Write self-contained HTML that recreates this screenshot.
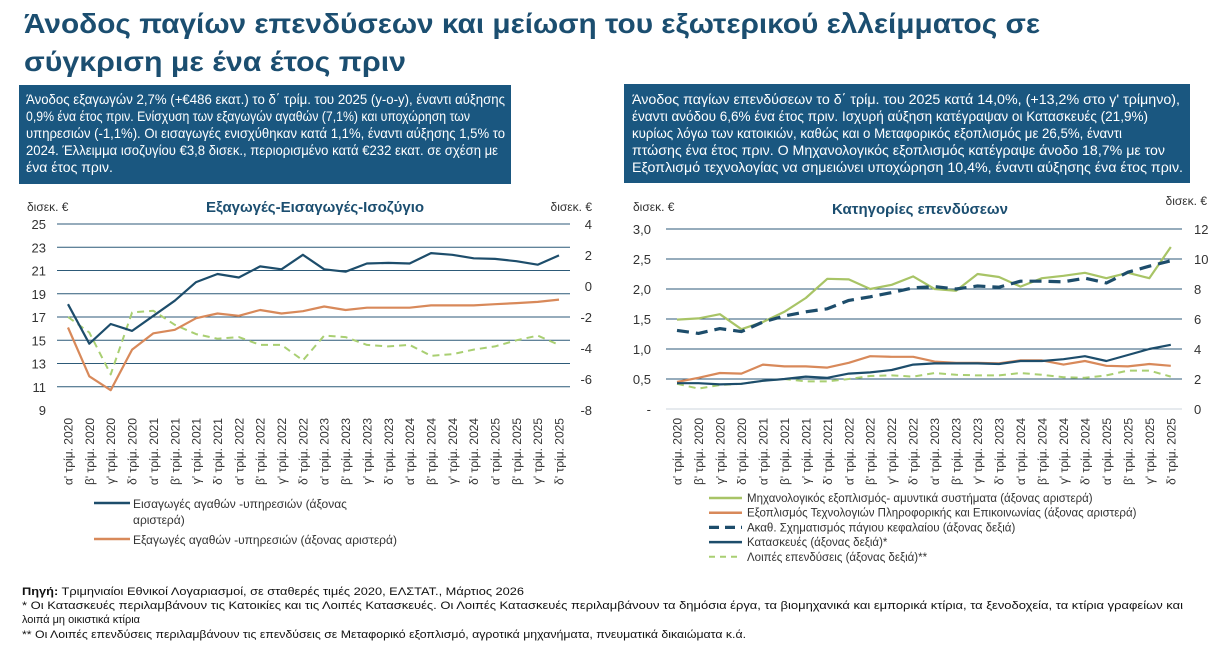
<!DOCTYPE html>
<html><head><meta charset="utf-8">
<style>
html,body{margin:0;padding:0;background:#fff;}
svg{display:block;font-family:"Liberation Sans",sans-serif;}
</style></head>
<body>
<svg id="s" width="1220" height="649" viewBox="0 0 1220 649" xmlns="http://www.w3.org/2000/svg">
<rect width="1220" height="649" fill="#fff"/>
<g fill="#1b4e70" font-weight="bold" font-size="28">
<text x="24" y="33" textLength="1016" lengthAdjust="spacingAndGlyphs">Άνοδος παγίων επενδύσεων και μείωση του εξωτερικού ελλείμματος σε</text>
<text x="24" y="71" textLength="382" lengthAdjust="spacingAndGlyphs">σύγκριση με ένα έτος πριν</text>
</g>
<rect x="19" y="85" width="492" height="99" fill="#1a5780"/>
<rect x="624" y="84" width="566" height="99" fill="#1a5780"/>
<g fill="#fff" font-size="14">
<text x="26" y="104" textLength="479" lengthAdjust="spacingAndGlyphs">Άνοδος εξαγωγών 2,7% (+€486 εκατ.) το δ΄ τρίμ. του 2025 (y-o-y), έναντι αύξησης</text>
<text x="26" y="121" textLength="444" lengthAdjust="spacingAndGlyphs">0,9% ένα έτος πριν. Ενίσχυση των εξαγωγών αγαθών (7,1%) και υποχώρηση των</text>
<text x="26" y="138" textLength="479" lengthAdjust="spacingAndGlyphs">υπηρεσιών (-1,1%). Οι εισαγωγές ενισχύθηκαν κατά 1,1%, έναντι αύξησης 1,5% το</text>
<text x="26" y="155" textLength="472" lengthAdjust="spacingAndGlyphs">2024. Έλλειμμα ισοζυγίου €3,8 δισεκ., περιορισμένο κατά €232 εκατ. σε σχέση με</text>
<text x="26" y="172">ένα έτος πριν.</text>
<text x="632" y="104" textLength="548" lengthAdjust="spacingAndGlyphs">Άνοδος παγίων επενδύσεων το δ΄ τρίμ. του 2025 κατά 14,0%, (+13,2% στο γ' τρίμηνο),</text>
<text x="632" y="121" textLength="516" lengthAdjust="spacingAndGlyphs">έναντι ανόδου 6,6% ένα έτος πριν. Ισχυρή αύξηση κατέγραψαν οι Κατασκευές (21,9%)</text>
<text x="632" y="138" textLength="490" lengthAdjust="spacingAndGlyphs">κυρίως λόγω των κατοικιών, καθώς και ο Μεταφορικός εξοπλισμός με 26,5%, έναντι</text>
<text x="632" y="155" textLength="533" lengthAdjust="spacingAndGlyphs">πτώσης ένα έτος πριν. Ο Μηχανολογικός εξοπλισμός κατέγραψε άνοδο 18,7% με τον</text>
<text x="632" y="172" textLength="551" lengthAdjust="spacingAndGlyphs">Εξοπλισμό τεχνολογίας να σημειώνει υποχώρηση 10,4%, έναντι αύξησης ένα έτος πριν.</text>
</g>
<g id="charts"></g>
<g fill="#111" font-size="11">
<text x="22" y="595" textLength="502" lengthAdjust="spacingAndGlyphs"><tspan font-weight="bold">Πηγή:</tspan> Τριμηνιαίοι Εθνικοί Λογαριασμοί, σε σταθερές τιμές 2020, ΕΛΣΤΑΤ., Μάρτιος 2026</text>
<text x="22" y="609" textLength="1161" lengthAdjust="spacingAndGlyphs">* Οι Κατασκευές περιλαμβάνουν τις Κατοικίες και τις Λοιπές Κατασκευές. Οι Λοιπές Κατασκευές περιλαμβάνουν τα δημόσια έργα, τα βιομηχανικά και εμπορικά κτίρια, τα ξενοδοχεία, τα κτίρια γραφείων και</text>
<text x="22" y="623" textLength="118" lengthAdjust="spacingAndGlyphs">λοιπά μη οικιστικά κτίρια</text>
<text x="22" y="638" textLength="724" lengthAdjust="spacingAndGlyphs">** Οι Λοιπές επενδύσεις περιλαμβάνουν τις επενδύσεις σε Μεταφορικό εξοπλισμό, αγροτικά μηχανήματα, πνευματικά δικαιώματα κ.ά.</text>
</g>
</svg>
<script>
(function(){
var g=document.getElementById("charts"),h="";
var q=["α'","β'","γ'","δ'"],cats=[];
for(var y=2020;y<=2025;y++)for(var i=0;i<4;i++)cats.push(q[i]+" τρίμ. "+y);
function pl(xs,ys,col,w,dash){var p=xs.map(function(x,i){return x.toFixed(1)+","+ys[i].toFixed(1)}).join(" ");
return '<polyline points="'+p+'" fill="none" stroke="'+col+'" stroke-width="'+w+'" stroke-linejoin="round"'+(dash?' stroke-dasharray="'+dash+'"':'')+'/>';}
var NAVY="#1d4d6b",OR="#d8895a",GR="#a8c466",LG="#a9cf72",TX="#333";
var lx0=57,lx1=570,X1=[];for(var i=0;i<24;i++)X1.push(68+i*21.35);
function ly(v){return 224+(25-v)*11.625} function ry(v){return 224+(4-v)*15.5}
for(var v=25;v>=11;v-=2)h+='<line x1="'+lx0+'" x2="'+lx1+'" y1="'+ly(v)+'" y2="'+ly(v)+'" stroke="#2d5a78" stroke-width="1"/>';
for(var v=25;v>=9;v-=2)h+='<text x="46" y="'+(ly(v)+5)+'" text-anchor="end" font-size="13" fill="'+TX+'">'+v+'</text>';
for(var v=4;v>=-8;v-=2)h+='<text x="592" y="'+(ry(v)+5)+'" text-anchor="end" font-size="13" fill="'+TX+'">'+v+'</text>';
h+='<text x="27" y="211" font-size="12" fill="'+TX+'">δισεκ. €</text><text x="592" y="211" text-anchor="end" font-size="12" fill="'+TX+'">δισεκ. €</text>';
h+='<text x="315" y="212" text-anchor="middle" font-size="15" font-weight="bold" fill="#1b4e70">Εξαγωγές-Εισαγωγές-Ισοζύγιο</text>';
var imp=[18.1,14.7,16.4,15.8,17.1,18.4,20,20.7,20.4,21.35,21.1,22.35,21.1,20.9,21.6,21.65,21.6,22.5,22.35,22.05,22,21.8,21.5,22.3];
var exp=[16.1,11.9,10.7,14.2,15.6,15.9,16.9,17.3,17.1,17.6,17.3,17.5,17.9,17.6,17.8,17.8,17.8,18.0,18.0,18.0,18.1,18.2,18.3,18.5];
var bal=[-2,-3,-5.7,-1.7,-1.6,-2.5,-3.1,-3.4,-3.3,-3.8,-3.8,-4.8,-3.2,-3.3,-3.8,-3.9,-3.8,-4.5,-4.4,-4.1,-3.9,-3.5,-3.2,-3.8];
h+=pl(X1,bal.map(ry),LG,2,"7,5");
h+=pl(X1,exp.map(ly),OR,2.2);
h+=pl(X1,imp.map(ly),NAVY,2.2);
X1.forEach(function(x,i){h+='<text transform="translate('+(x+4.5)+',418) rotate(-90)" text-anchor="end" font-size="12" fill="'+TX+'">'+cats[i]+'</text>';});
h+='<line x1="94" x2="130" y1="503" y2="503" stroke="'+NAVY+'" stroke-width="2.5"/><text x="133" y="508" font-size="12" fill="'+TX+'">Εισαγωγές αγαθών -υπηρεσιών (άξονας</text><text x="133" y="524" font-size="12" fill="'+TX+'">αριστερά)</text>';
h+='<line x1="94" x2="130" y1="539" y2="539" stroke="'+OR+'" stroke-width="2.5"/><text x="133" y="544" font-size="12" fill="'+TX+'">Εξαγωγές αγαθών -υπηρεσιών (άξονας αριστερά)</text>';
var X2=[];for(var i=0;i<24;i++)X2.push(677+i*21.47);
function y2(v){return 409-v*60}
for(var k=0;k<=6;k++){var v=k*0.5;h+='<line x1="666" x2="1182" y1="'+y2(v)+'" y2="'+y2(v)+'" stroke="'+(k==0?"#ccd6de":"#2d5a78")+'" stroke-width="1"/>';
h+='<text x="651" y="'+(y2(v)+5)+'" text-anchor="end" font-size="13" fill="'+TX+'">'+(k==0?"-":v.toFixed(1).replace(".",","))+'</text>';
h+='<text x="1194" y="'+(y2(v)+5)+'" font-size="13" fill="'+TX+'">'+(k*2)+'</text>';}
h+='<text x="633" y="211" font-size="12" fill="'+TX+'">δισεκ. €</text><text x="1207" y="205" text-anchor="end" font-size="12" fill="'+TX+'">δισεκ. €</text>';
h+='<text x="920" y="214" text-anchor="middle" font-size="15" font-weight="bold" fill="#1b4e70">Κατηγορίες επενδύσεων</text>';
var mach=[1.49,1.51,1.58,1.33,1.45,1.62,1.85,2.17,2.16,2.0,2.07,2.21,2.0,1.97,2.25,2.2,2.04,2.18,2.22,2.27,2.18,2.27,2.18,2.7];
var ict=[0.45,0.52,0.6,0.59,0.74,0.71,0.71,0.69,0.77,0.88,0.87,0.87,0.79,0.77,0.77,0.76,0.81,0.81,0.74,0.8,0.72,0.71,0.75,0.72];
var gf=[1.31,1.26,1.34,1.29,1.45,1.55,1.62,1.67,1.81,1.87,1.94,2.02,2.04,2.0,2.05,2.03,2.13,2.13,2.12,2.18,2.1,2.28,2.38,2.47];
var con=[0.43,0.43,0.41,0.42,0.47,0.5,0.54,0.52,0.59,0.61,0.65,0.74,0.76,0.76,0.76,0.75,0.8,0.8,0.83,0.88,0.8,0.9,1.0,1.07];
var oth=[0.42,0.34,0.4,0.42,0.47,0.5,0.46,0.46,0.5,0.55,0.56,0.54,0.6,0.57,0.56,0.56,0.6,0.57,0.53,0.52,0.56,0.64,0.64,0.54];
h+=pl(X2,oth.map(y2),LG,2,"7,5");
h+=pl(X2,ict.map(y2),OR,2.2);
h+=pl(X2,con.map(y2),NAVY,2.2);
h+=pl(X2,mach.map(y2),GR,2.2);
h+=pl(X2,gf.map(y2),NAVY,3.2,"12,7");
X2.forEach(function(x,i){h+='<text transform="translate('+(x+4.5)+',418) rotate(-90)" text-anchor="end" font-size="12" fill="'+TX+'">'+cats[i]+'</text>';});
var L=[["Μηχανολογικός εξοπλισμός- αμυντικά συστήματα (άξονας αριστερά)",GR,2.5,""],
["Εξοπλισμός Τεχνολογιών Πληροφορικής και Επικοινωνίας (άξονας αριστερά)",OR,2.5,""],
["Ακαθ. Σχηματισμός πάγιου κεφαλαίου (άξονας δεξιά)",NAVY,3.2,"10,6"],
["Κατασκευές (άξονας δεξιά)*",NAVY,2.5,""],
["Λοιπές επενδύσεις (άξονας δεξιά)**",LG,2,"6,5"]];
L.forEach(function(l,i){var yy=498+i*14.7;h+='<line x1="709" x2="742" y1="'+yy+'" y2="'+yy+'" stroke="'+l[1]+'" stroke-width="'+l[2]+'"'+(l[3]?' stroke-dasharray="'+l[3]+'"':'')+'/><text x="747" y="'+(yy+4)+'" font-size="11.5" fill="'+TX+'">'+l[0]+'</text>';});
g.innerHTML=h;
})();
</script>
</body></html>
